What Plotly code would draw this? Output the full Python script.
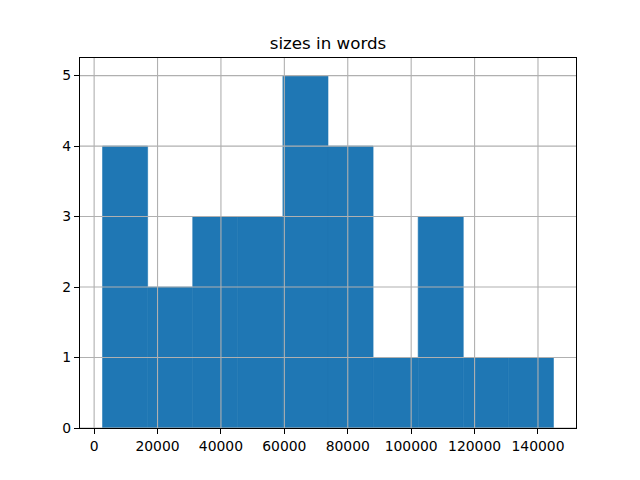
import plotly.graph_objects as go

# Histogram data (bin edges and counts)
bin_edges = [2655, 16878, 31100, 45323, 59545, 73768, 87990, 102213, 116435, 130658, 144880]
counts = [4, 2, 3, 3, 5, 4, 1, 3, 1, 1]
x_ticks = [0, 20000, 40000, 60000, 80000, 100000, 120000, 140000]
y_ticks = [0, 1, 2, 3, 4, 5]
title_text = "sizes in words"

mids = [(a + b) / 2 for a, b in zip(bin_edges[:-1], bin_edges[1:])]
widths = [b - a for a, b in zip(bin_edges[:-1], bin_edges[1:])]

span = bin_edges[-1] - bin_edges[0]
x_range = [bin_edges[0] - 0.05 * span, bin_edges[-1] + 0.05 * span]
y_range = [0, max(counts) * 1.05]

fig = go.Figure()
fig.add_trace(go.Bar(x=mids, y=counts, width=widths,
                     marker=dict(color="#1f77b4", line=dict(width=0.6, color="#1f77b4")),
                     hoverinfo="skip"))

grid = dict(color="#b0b0b0", width=1.1)
shapes = []
for t in x_ticks:
    shapes.append(dict(type="line", xref="x", yref="paper", x0=t, x1=t, y0=0, y1=1,
                       line=grid, layer="above"))
for t in y_ticks:
    shapes.append(dict(type="line", xref="paper", yref="y", x0=0, x1=1, y0=t, y1=t,
                       line=grid, layer="above"))

axis_common = dict(showgrid=False, zeroline=False, showline=True, linecolor="black",
                   linewidth=1.1, mirror=True, ticks="outside", ticklen=5,
                   tickwidth=1.1, tickcolor="black", layer="above traces",
                   tickfont=dict(family="DejaVu Sans", size=13.9, color="black"))

# page body adds an 8px offset; margins compensate for it
fig.update_layout(
    width=640, height=480,
    margin=dict(l=72, r=72, t=50, b=60),
    paper_bgcolor="white", plot_bgcolor="white",
    showlegend=False,
    shapes=shapes,
    title=dict(text=title_text, x=0.5, xanchor="center",
               xref="container", yref="container", y=1 - 35 / 480, yanchor="middle",
               font=dict(family="DejaVu Sans", size=16.7, color="black")),
    xaxis=dict(range=x_range, tickvals=x_ticks, ticktext=[str(t) for t in x_ticks],
               **axis_common),
    yaxis=dict(range=y_range, tickvals=y_ticks, ticktext=[str(t) for t in y_ticks],
               **axis_common),
)

fig.write_html("out.html")
